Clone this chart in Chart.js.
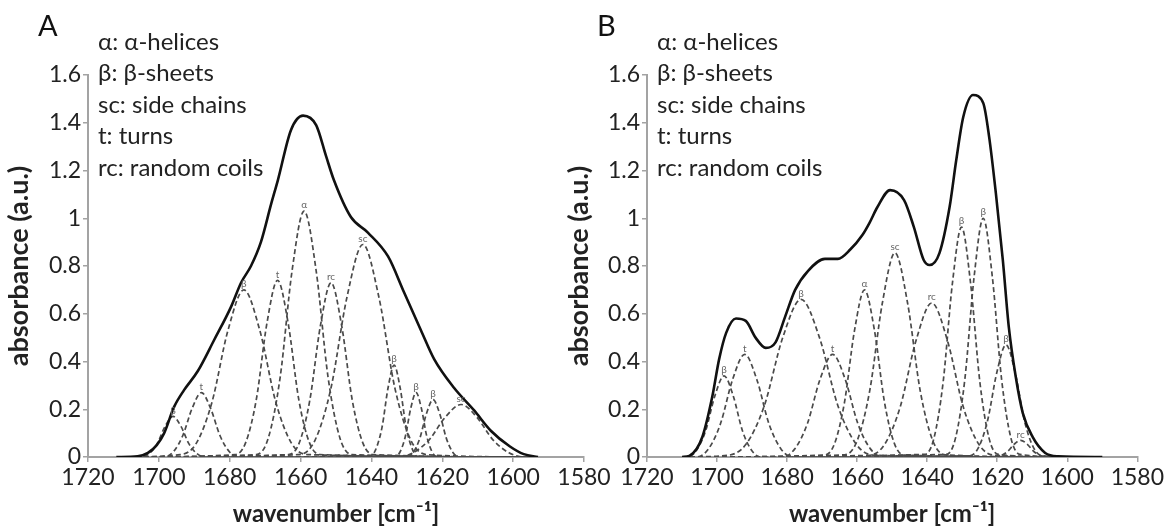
<!DOCTYPE html>
<html>
<head>
<meta charset="utf-8">
<script src="https://cdn.jsdelivr.net/npm/chart.js@4.4.1/dist/chart.umd.min.js"></script>
<style>
  html, body { margin: 0; padding: 0; background: #fff; }
  body { width: 1166px; height: 531px; position: relative; overflow: hidden; }
  canvas { position: absolute; top: 0; }
  #chartA { left: 0; }
  #chartB { left: 560px; }
</style>
</head>
<body>
<canvas id="chartA" width="615" height="531"></canvas>
<canvas id="chartB" width="606" height="531"></canvas>
<script>
// axis ticks
const xTicks = [1720, 1700, 1680, 1660, 1640, 1620, 1600, 1580];
const yTicks = [0, 0.2, 0.4, 0.6, 0.8, 1, 1.2, 1.4, 1.6];
const legendLines = ["α: α-helices", "β: β-sheets", "sc: side chains", "t: turns", "rc: random coils"];

// panel A: measured spectrum [wavenumber, absorbance]
const aSolid = [[1712,0],[1706,0.003],[1703.1,0.017],[1700.6,0.05],[1698.5,0.10],[1695.7,0.21],[1692.9,0.28],
  [1689.0,0.36],[1684.4,0.49],[1679.6,0.63],[1676.8,0.73],[1674.0,0.80],[1671.2,0.90],[1668.3,1.06],[1666.4,1.16],
  [1662.7,1.37],[1659.3,1.43],[1655.6,1.39],[1652.8,1.26],[1650.6,1.16],[1645.8,1.005],[1641.0,0.94],[1635.3,0.84],
  [1630.8,0.69],[1626.0,0.53],[1622.3,0.41],[1616.7,0.29],[1611.0,0.195],[1606.3,0.11],[1601,0.045],[1597,0.012],[1593,0]];

// panel A: fitted bands
const aBandNames = ["β", "t", "β", "t", "α", "rc", "sc", "β", "β", "β", "sc"];
const aBands = [
  [[1705,0],[1702.75,0.014],[1700.5,0.055],[1698.25,0.128],[1696,0.17],[1693.75,0.128],[1691.5,0.055],[1689.25,0.014],[1687,0]],
  [[1698.5,0],[1695.9,0.022],[1693.3,0.088],[1690.6,0.204],[1688,0.27],[1685.4,0.204],[1682.7,0.088],[1680.1,0.022],[1677.5,0]],
  [[1694,0.01],[1689.5,0.056],[1685,0.23],[1680.5,0.53],[1676,0.70],[1671.5,0.53],[1667,0.23],[1662.5,0.056],[1658,0.01]],
  [[1678.5,0.01],[1675.5,0.06],[1672.5,0.24],[1669.5,0.56],[1666.5,0.74],[1663.5,0.56],[1660.5,0.24],[1657.5,0.06],[1654.5,0.01]],
  [[1672.5,0.01],[1669.1,0.08],[1665.75,0.335],[1662.4,0.78],[1659,1.03],[1655.6,0.78],[1652.25,0.335],[1648.9,0.08],[1645.5,0.01]],
  [[1663.4,0.01],[1660.4,0.058],[1657.4,0.237],[1654.4,0.55],[1651.4,0.73],[1648.4,0.55],[1645.4,0.237],[1642.4,0.058],[1639.4,0.01]],
  [[1660.4,0.01],[1655.9,0.071],[1651.4,0.29],[1646.9,0.67],[1642.4,0.89],[1637.9,0.67],[1633.4,0.29],[1628.9,0.071],[1624.4,0.01]],
  [[1640.5,0],[1638.8,0.031],[1637,0.125],[1635.3,0.29],[1633.6,0.385],[1631.9,0.29],[1630.2,0.125],[1628.4,0.031],[1626.7,0]],
  [[1633.4,0],[1631.9,0.022],[1630.4,0.088],[1628.9,0.204],[1627.4,0.27],[1625.9,0.204],[1624.4,0.088],[1622.9,0.022],[1621.4,0]],
  [[1630.1,0],[1628.2,0.019],[1626.35,0.078],[1624.5,0.18],[1622.6,0.24],[1620.7,0.18],[1618.85,0.078],[1617,0.019],[1615.1,0]],
  [[1632.7,0],[1628.2,0.018],[1623.7,0.072],[1619.2,0.166],[1614.7,0.22],[1610.2,0.166],[1605.7,0.072],[1601.2,0.018],[1596.7,0]]
];
const aBaseRange = [1711, 1594];

// panel B: measured spectrum
const bSolid = [[1710,0],[1707.9,0.005],[1704.2,0.084],[1701.4,0.25],[1699.4,0.41],[1697.4,0.52],[1694.6,0.58],
  [1691.8,0.57],[1689.0,0.50],[1686.1,0.457],[1683.3,0.48],[1680.5,0.59],[1677.7,0.70],[1674.0,0.78],[1669.2,0.83],
  [1665.5,0.83],[1661.9,0.87],[1658.5,0.93],[1656.5,0.98],[1654.2,1.047],[1650.6,1.118],[1646.6,1.076],[1643.8,0.963],
  [1641.0,0.825],[1639.3,0.804],[1636.5,0.854],[1633.6,1.047],[1631.7,1.244],[1629.7,1.424],[1626.9,1.516],[1624.0,1.483],
  [1622.3,1.34],[1620.4,1.106],[1618.4,0.825],[1616.7,0.545],[1614.7,0.335],[1612.7,0.184],[1609.9,0.084],[1606.3,0.017],
  [1602.6,0.003],[1590,0]];

// panel B: fitted bands
const bBandNames = ["β", "t", "β", "t", "α", "sc", "rc", "β", "β", "β", "rc"];
const bBands = [
  [[1708.5,0],[1705.9,0.027],[1703.25,0.11],[1700.6,0.257],[1698,0.34],[1695.4,0.257],[1692.75,0.11],[1690.1,0.027],[1687.5,0]],
  [[1705.9,0],[1702.45,0.034],[1699,0.14],[1695.55,0.325],[1692.1,0.43],[1688.65,0.325],[1685.2,0.14],[1681.75,0.034],[1678.3,0]],
  [[1697,0.007],[1691.75,0.053],[1686.5,0.215],[1681.25,0.50],[1676,0.66],[1670.75,0.50],[1665.5,0.215],[1660.25,0.053],[1655,0.007]],
  [[1681.4,0],[1677.8,0.034],[1674.2,0.14],[1670.6,0.325],[1667,0.43],[1663.4,0.325],[1659.8,0.14],[1656.2,0.034],[1652.6,0]],
  [[1669.3,0.008],[1666.45,0.056],[1663.6,0.23],[1660.75,0.53],[1657.9,0.70],[1655.05,0.53],[1652.2,0.23],[1649.35,0.056],[1646.5,0.008]],
  [[1663.6,0.009],[1660,0.068],[1656.4,0.278],[1652.8,0.645],[1649.2,0.855],[1645.6,0.645],[1642,0.278],[1638.4,0.068],[1634.8,0.009]],
  [[1656.7,0.007],[1652.2,0.052],[1647.7,0.21],[1643.2,0.487],[1638.7,0.645],[1634.2,0.487],[1629.7,0.21],[1625.2,0.052],[1620.7,0.007]],
  [[1640.7,0.011],[1638.1,0.077],[1635.45,0.313],[1632.8,0.727],[1630.2,0.963],[1627.6,0.727],[1624.95,0.313],[1622.3,0.077],[1619.7,0.011]],
  [[1634.5,0.011],[1631.9,0.08],[1629.25,0.325],[1626.6,0.755],[1624,1.0],[1621.4,0.755],[1618.75,0.325],[1616.1,0.08],[1613.5,0.011]],
  [[1628,0.005],[1625.4,0.038],[1622.75,0.153],[1620.1,0.355],[1617.5,0.47],[1614.9,0.355],[1612.25,0.153],[1609.6,0.038],[1607,0.005]],
  [[1620.8,0],[1618.9,0.006],[1617.05,0.023],[1615.2,0.053],[1613.3,0.07],[1611.4,0.053],[1609.55,0.023],[1607.7,0.006],[1605.8,0]]
];
const bBaseRange = [1710, 1600];

const FONT = "Lato, 'Open Sans', sans-serif";
const AXIS_GREY = "#a3a3a3";

// legend text, panel letter and band labels
const panelText = {
  id: "panelText",
  afterDatasetsDraw(chart, args, opts) {
    const { ctx, chartArea, scales } = chart;
    ctx.save();
    ctx.font = "10px " + FONT;
    ctx.fillStyle = "#666";
    ctx.textAlign = "center";
    ctx.textBaseline = "bottom";
    opts.bands.forEach((pts, i) => {
      const top = pts.reduce((a, b) => (b[1] > a[1] ? b : a));
      ctx.fillText(opts.names[i], scales.x.getPixelForValue(top[0]), scales.y.getPixelForValue(top[1]) - 1);
    });

    ctx.font = "24px " + FONT;
    ctx.fillStyle = "#222";
    ctx.textAlign = "left";
    ctx.textBaseline = "middle";
    legendLines.forEach((t, i) => ctx.fillText(t, chartArea.left + 10, 42 + i * 31.5));

    ctx.font = "29px " + FONT;
    ctx.fillStyle = "#111";
    ctx.fillText(opts.letter, chartArea.left - 50, 27);
    ctx.restore();
  },
};

function toXY(pts) {
  return pts.map(([x, y]) => ({ x, y }));
}

function makeChart(id, solid, bands, names, baseRange, letter, axisW, padRight) {
  const datasets = [{
    data: toXY(solid),
    borderColor: "#111",
    borderWidth: 2.6,
    pointRadius: 0,
    cubicInterpolationMode: "monotone",
  }];
  bands.forEach((pts) => {
    datasets.push({
      data: toXY([[baseRange[0], 0], ...pts, [baseRange[1], 0]]),
      borderColor: "#4a4a4a",
      borderWidth: 1.7,
      borderDash: [5, 3],
      pointRadius: 0,
      cubicInterpolationMode: "monotone",
    });
  });

  const tickFont = { family: FONT, size: 23 };
  const grid = { drawOnChartArea: false, drawTicks: true, tickLength: 5, color: AXIS_GREY, lineWidth: 1.5 };
  const border = { color: AXIS_GREY, width: 2 };

  return new Chart(document.getElementById(id), {
    type: "line",
    data: { datasets },
    options: {
      responsive: false,
      animation: false,
      devicePixelRatio: 1,
      layout: { padding: { left: 0, right: padRight, top: 75, bottom: 0 } },
      plugins: {
        legend: { display: false },
        tooltip: { enabled: false },
        panelText: { bands, names, letter },
      },
      scales: {
        x: {
          type: "linear",
          reverse: true,
          min: 1580,
          max: 1720,
          afterBuildTicks: (s) => { s.ticks = xTicks.map((v) => ({ value: v })); },
          afterFit: (s) => { s.height = 74; },
          ticks: { autoSkip: false, maxRotation: 0, color: "#222", font: tickFont, padding: 2, callback: (v) => String(v) },
          grid,
          border,
          title: {
            display: true,
            text: "wavenumber [cm⁻¹]",
            color: "#222",
            font: { family: FONT, size: 24, weight: "bold" },
            padding: { top: 0, bottom: 2 },
          },
        },
        y: {
          min: 0,
          max: 1.6,
          afterBuildTicks: (s) => { s.ticks = yTicks.map((v) => ({ value: v })); },
          afterFit: (s) => { s.width = axisW; },
          ticks: { color: "#222", font: tickFont, padding: 2, callback: (v) => String(v) },
          grid,
          border,
          title: {
            display: true,
            text: "absorbance (a.u.)",
            color: "#222",
            font: { family: FONT, size: 27, weight: "bold" },
            padding: { top: 3, bottom: 0 },
          },
        },
      },
    },
    plugins: [panelText],
  });
}

makeChart("chartA", aSolid, aBands, aBandNames, aBaseRange, "A", 88, 31);
makeChart("chartB", bSolid, bBands, bBandNames, bBaseRange, "B", 87, 23);
</script>
</body>
</html>
